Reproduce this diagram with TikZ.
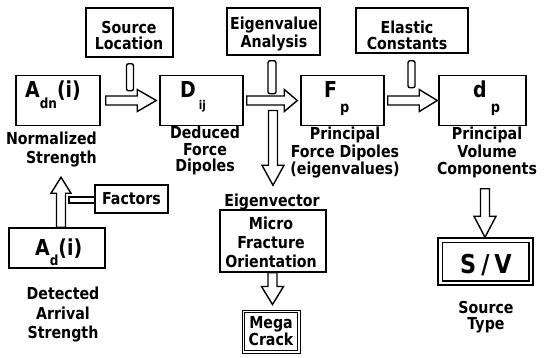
\documentclass[tikz,border=0pt]{standalone}
\usepackage{fontspec}
\setmainfont{DejaVu Sans}[FakeStretch=0.86]
\usetikzlibrary{calc}
% text sizes
\newcommand\lbfont[1]{\bfseries\fontsize{16.5}{#1}\selectfont}
\newcommand\symfont{\bfseries\fontsize{22}{22}\selectfont}
\newcommand\subsc[3]{\raisebox{-#1}{\fontsize{#2}{#2}\selectfont #3}}
\tikzset{
  frame/.style={draw, line width=1.5pt, inner sep=0pt},
  txt/.style={font=\lbfont{#1}, align=center, inner sep=0pt, anchor=north},
  txt/.default=17pt,
  sym/.style={font=\symfont, inner sep=0pt, anchor=base west},
  bar/.style={draw, line width=1.4pt, fill=white, inner sep=0pt, rounded corners=2pt},
  % hollow block arrows, horizontal and vertical
  hblock/.style={line width=1.4pt, line join=miter,
    to path={let \p1=(\tikztostart), \p2=(\tikztotarget) in
      (\x1,\y1+4.5pt) -- (\x2-#1,\y1+4.5pt) -- (\x2-#1,\y1+11pt) -- (\x2,\y1)
      -- (\x2-#1,\y1-11pt) -- (\x2-#1,\y1-4.5pt) -- (\x1,\y1-4.5pt) -- cycle}},
  vdown/.style={line width=1.4pt, line join=miter,
    to path={let \p1=(\tikztostart), \p2=(\tikztotarget) in
      (\x1-4.5pt,\y1) -- (\x1-4.5pt,\y2+#1) -- (\x1-11pt,\y2+#1) -- (\x1,\y2)
      -- (\x1+11pt,\y2+#1) -- (\x1+4.5pt,\y2+#1) -- (\x1+4.5pt,\y1) -- cycle}},
  vup/.style={line width=1.4pt, line join=miter,
    to path={let \p1=(\tikztostart), \p2=(\tikztotarget) in
      (\x1-4.5pt,\y1) -- (\x1-4.5pt,\y2-#1) -- (\x1-10pt,\y2-#1) -- (\x1,\y2)
      -- (\x1+10pt,\y2-#1) -- (\x1+4.5pt,\y2-#1) -- (\x1+4.5pt,\y1) -- cycle}},
}
\begin{document}
\begin{tikzpicture}[x=1pt,y=-1pt]
\useasboundingbox (0,0) rectangle (556,357);

% input boxes along the top
\node[frame, minimum width=87pt, minimum height=49pt] (SrcLoc)  at (129.5,32.5) {};
\node[frame, minimum width=93pt, minimum height=47pt] (EigAn)   at (273.5,31.5) {};
\node[frame, minimum width=112pt, minimum height=45pt] (Elastic) at (412,30.5) {};
\node[txt=16.5pt] (SrcLocT) at (129,21) {Source\\Location};
\node[txt=18pt] (EigAnT) at (274,17) {Eigenvalue\\Analysis};
\node[txt=15.5pt] (ElasT) at (407,21) {Elastic\\Constants};

% main chain of quantities
\node[frame, minimum width=84pt, minimum height=50pt] (Adn) at (58,100.5) {};
\node[frame, minimum width=83pt, minimum height=50pt] (Dij) at (201.5,100.5) {};
\node[frame, minimum width=83pt, minimum height=50pt] (Fp)  at (342.5,100.5) {};
\node[frame, minimum width=87pt, minimum height=50pt] (dp)  at (482.5,100.5) {};
\node[sym] (AdnS) at (25,97) {A\subsc{11pt}{14}{dn}(i)};
\node[sym] (DijS) at (180,97) {D\hspace{3pt}\subsc{12pt}{12}{ij}};
\node[sym] (FpS)  at (324,97) {F\hspace{3pt}\subsc{15pt}{15}{p}};
\node[sym] (dpS)  at (473,97) {d\hspace{4pt}\subsc{15pt}{15}{p}};

% captions under the main chain
\node[txt=19pt, anchor=north east, align=right] (NormLbl) at (97,131.5) {Normalized\\Strength};
\node[txt=16.5pt] (DedLbl) at (205,126) {Deduced\\Force\\Dipoles};
\node[txt=17.5pt] (PfdLbl) at (345,127) {Principal\\Force Dipoles\\(eigenvalues)};
\node[txt=17.5pt] (PvcLbl) at (487,127) {Principal\\Volume\\Components};

% detected strength and correction factors
\node[frame, minimum width=96pt, minimum height=40pt] (Ad) at (57,248) {};
\node[sym] (AdS) at (35,255) {A\subsc{10pt}{14}{d}(i)};
\node[txt=19.5pt] (DetLbl) at (63,287) {Detected\\Arrival\\Strength};
\node[bar, rounded corners=0pt, minimum width=26pt, minimum height=6pt] (fbar) at (82,200) {};
\node[frame, minimum width=73pt, minimum height=28pt, font=\lbfont{17pt}] (Factors) at (131.5,199) {Factors};

% eigenvector branch
\node[txt] (EvecLbl) at (272,194) {Eigenvector};
\node[frame, minimum width=106pt, minimum height=62pt] (Micro) at (273,241) {};
\node[txt=19pt] (MicroT) at (271,217) {Micro\\Fracture\\Orientation};
\node[draw, line width=1pt, inner sep=0pt, minimum width=58pt, minimum height=43pt] (Mega) at (271,331.5) {};
\draw[line width=1.7pt] ($(Mega.north west)+(3,3)$) rectangle ($(Mega.south east)+(-3,-3)$);
\node[txt=16pt] (MegaT) at (271,316) {Mega\\Crack};

% source type
\node[frame, minimum width=95pt, minimum height=47pt] (SV) at (485.5,261.5) {};
\draw[line width=1.5pt] ($(SV.north west)+(5,5)$) rectangle ($(SV.south east)+(-5,-5)$);
\node[inner sep=0pt, anchor=base, font=\bfseries\fontsize{26}{26}\selectfont] (SVS) at (486,273) {S\hspace{5pt}/\hspace{5pt}V};
\node[txt=16pt] (StLbl) at (486,301) {Source\\Type};

% feed-in bars from the input boxes
\node[bar, minimum width=7pt, minimum height=27pt] (sbar) at ($(SrcLoc.south)+(0.5,19.5)$) {};
\node[bar, minimum width=8pt, minimum height=33pt] (ebar) at ($(EigAn.south)+(-1.5,21.5)$) {};
\node[bar, minimum width=7pt, minimum height=27pt] (elbar) at ($(Elastic.south)+(-0.5,20.5)$) {};

% end points of the block arrows
\coordinate (a1s) at ($(Adn.east)+(5,0)$);
\coordinate (a1e) at ($(Dij.west)+(-3,0)$);
\coordinate (a2s) at ($(Dij.east)+(3,0)$);
\coordinate (a2e) at ($(Fp.west)+(-3,0)$);
\coordinate (a3s) at ($(Fp.east)+(3,0)$);
\coordinate (a3e) at ($(dp.west)+(-1,0)$);
\coordinate (cross) at ($(Dij.east)!0.5!(Fp.west)+(1,10)$);
\coordinate (evtip) at ($(Micro.north)+(0,-24)$);
\coordinate (upsrc) at ($(Ad.north)+(4,0)$);
\coordinate (uptip) at ($(Adn.south)+(3,51)$);
\coordinate (mcs) at ($(Micro.south)+(-0.5,0)$);
\coordinate (mce) at ($(Mega.north)+(1.5,-5)$);
\coordinate (svs) at ($(dp.south)+(2.5,62.5)$);

\draw[hblock=19pt] (a1s) to (a1e);
\draw[hblock=13pt] (a2s) to (a2e);
\draw[hblock=18pt] (a3s) to (a3e);
\draw[vdown=20pt] (cross) to (evtip);
\draw[vup=16pt] (upsrc) to (uptip);
\draw[vdown=18pt] (mcs) to (mce);
\draw[vdown=21pt] (svs) to (SV.north);
\end{tikzpicture}
\end{document}
